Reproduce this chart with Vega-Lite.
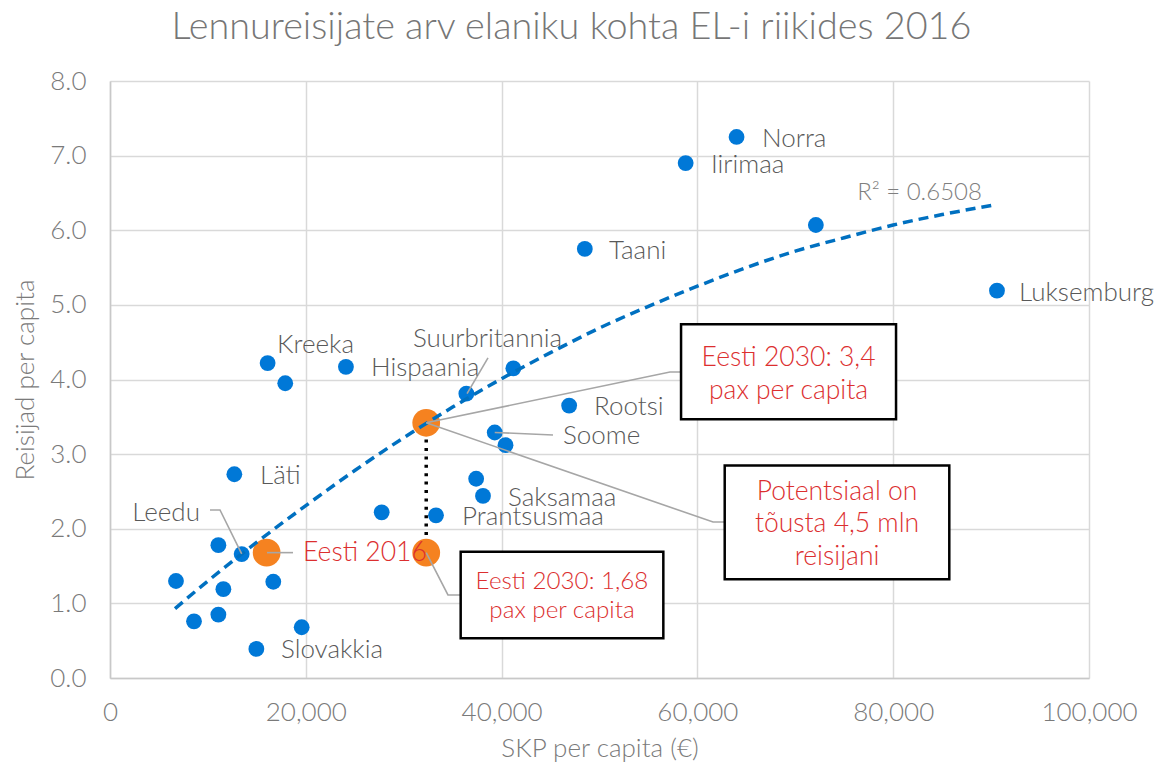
{
  "$schema": "https://vega.github.io/schema/vega-lite/v6.json",
  "width": 979,
  "height": 597,
  "autosize": "none",
  "padding": {"left": 110, "top": 81, "right": 71, "bottom": 86},
  "background": "white",
  "config": {
    "view": {"stroke": null},
    "font": "Lato",
    "text": {"font": "Lato"}
  },
  "title": {
    "text": "Lennureisijate arv elaniku kohta EL-i riikides 2016",
    "font": "Lato",
    "fontSize": 37.8,
    "fontWeight": 300,
    "color": "#767676",
    "anchor": "middle",
    "dx": -28,
    "offset": 21
  },
  "datasets": {
    "pts": [
      {"country": "Norra", "x": 64000, "y": 7.25, "kind": "EU"},
      {"country": "Iirimaa", "x": 58800, "y": 6.90, "kind": "EU"},
      {"country": "", "x": 72100, "y": 6.07, "kind": "EU"},
      {"country": "Taani", "x": 48500, "y": 5.75, "kind": "EU"},
      {"country": "Luksemburg", "x": 90600, "y": 5.19, "kind": "EU"},
      {"country": "Kreeka", "x": 16100, "y": 4.22, "kind": "EU"},
      {"country": "", "x": 17900, "y": 3.95, "kind": "EU"},
      {"country": "Hispaania", "x": 24100, "y": 4.17, "kind": "EU"},
      {"country": "Suurbritannia", "x": 36400, "y": 3.81, "kind": "EU"},
      {"country": "", "x": 41200, "y": 4.15, "kind": "EU"},
      {"country": "Rootsi", "x": 46900, "y": 3.65, "kind": "EU"},
      {"country": "Soome", "x": 39300, "y": 3.29, "kind": "EU"},
      {"country": "", "x": 40400, "y": 3.12, "kind": "EU"},
      {"country": "", "x": 37400, "y": 2.67, "kind": "EU"},
      {"country": "Saksamaa", "x": 38100, "y": 2.44, "kind": "EU"},
      {"country": "Prantsusmaa", "x": 33300, "y": 2.18, "kind": "EU"},
      {"country": "", "x": 27750, "y": 2.22, "kind": "EU"},
      {"country": "Läti", "x": 12700, "y": 2.73, "kind": "EU"},
      {"country": "Leedu", "x": 13450, "y": 1.66, "kind": "EU"},
      {"country": "", "x": 11070, "y": 1.78, "kind": "EU"},
      {"country": "", "x": 6740, "y": 1.30, "kind": "EU"},
      {"country": "", "x": 11580, "y": 1.19, "kind": "EU"},
      {"country": "", "x": 16680, "y": 1.29, "kind": "EU"},
      {"country": "", "x": 8580, "y": 0.76, "kind": "EU"},
      {"country": "", "x": 11070, "y": 0.85, "kind": "EU"},
      {"country": "", "x": 19580, "y": 0.68, "kind": "EU"},
      {"country": "Slovakkia", "x": 14950, "y": 0.39, "kind": "EU"},
      {"country": "Eesti 2016", "x": 16000, "y": 1.68, "kind": "Eesti"},
      {"country": "Eesti 2030 (trend)", "x": 32300, "y": 3.42, "kind": "Eesti"},
      {"country": "Eesti 2030", "x": 32300, "y": 1.68, "kind": "Eesti"}
    ],
    "trend": [
      {"x": 6640, "y": 0.93},
      {"x": 10000, "y": 1.30},
      {"x": 15000, "y": 1.82},
      {"x": 20000, "y": 2.31},
      {"x": 25000, "y": 2.78},
      {"x": 30000, "y": 3.22},
      {"x": 35000, "y": 3.63},
      {"x": 40000, "y": 4.01},
      {"x": 45000, "y": 4.36},
      {"x": 50000, "y": 4.69},
      {"x": 55000, "y": 4.98},
      {"x": 60000, "y": 5.25},
      {"x": 65000, "y": 5.50},
      {"x": 70000, "y": 5.72},
      {"x": 75000, "y": 5.90},
      {"x": 80000, "y": 6.07},
      {"x": 85000, "y": 6.21},
      {"x": 90330, "y": 6.34}
    ],
    "leaders": [
      {"id": "Leedu", "o": 1, "x": 10215, "y": 2.252},
      {"id": "Leedu", "o": 2, "x": 11236, "y": 2.252},
      {"id": "Leedu", "o": 3, "x": 13450, "y": 1.662},
      {"id": "E2016", "o": 1, "x": 16040, "y": 1.68},
      {"id": "E2016", "o": 2, "x": 18690, "y": 1.68},
      {"id": "UK", "o": 1, "x": 38610, "y": 4.29},
      {"id": "UK", "o": 2, "x": 36470, "y": 3.81},
      {"id": "Box1", "o": 1, "x": 32300, "y": 3.42},
      {"id": "Box1", "o": 2, "x": 57200, "y": 4.10},
      {"id": "Box1", "o": 3, "x": 58330, "y": 4.10},
      {"id": "Box2", "o": 1, "x": 32300, "y": 3.42},
      {"id": "Box2", "o": 2, "x": 61600, "y": 2.09},
      {"id": "Box2", "o": 3, "x": 62790, "y": 2.09},
      {"id": "Soome", "o": 1, "x": 39300, "y": 3.29},
      {"id": "Soome", "o": 2, "x": 45250, "y": 3.257},
      {"id": "Box3", "o": 1, "x": 32300, "y": 1.68},
      {"id": "Box3", "o": 2, "x": 34520, "y": 1.113},
      {"id": "Box3", "o": 3, "x": 35820, "y": 1.113}
    ],
    "gap": [
      {"x": 32300, "y": 3.42, "y2": 1.68}
    ],
    "boxes": [
      {"x": 58330, "x2": 80290, "y": 4.741, "y2": 3.468},
      {"x": 62790, "x2": 85730, "y": 2.846, "y2": 1.323},
      {"x": 35820, "x2": 56520, "y": 1.693, "y2": 0.532}
    ],
    "boxtext": [
      {"x": 69310, "y": 4.29, "text": "Eesti 2030: 3,4"},
      {"x": 69310, "y": 3.85, "text": "pax per capita"},
      {"x": 74260, "y": 2.497, "text": "Potentsiaal on"},
      {"x": 74260, "y": 2.064, "text": "tõusta 4,5 mln"},
      {"x": 74260, "y": 1.626, "text": "reisijani"}
    ],
    "boxtextSmall": [
      {"x": 46170, "y": 1.291, "text": "Eesti 2030: 1,68"},
      {"x": 46170, "y": 0.898, "text": "pax per capita"}
    ],
    "labels": [
      {"x": 66600, "y": 7.22, "text": "Norra"},
      {"x": 61390, "y": 6.88, "text": "Iirimaa"},
      {"x": 50970, "y": 5.72, "text": "Taani"},
      {"x": 92850, "y": 5.16, "text": "Luksemburg"},
      {"x": 17060, "y": 4.46, "text": "Kreeka"},
      {"x": 26660, "y": 4.16, "text": "Hispaania"},
      {"x": 30950, "y": 4.54, "text": "Suurbritannia"},
      {"x": 49440, "y": 3.63, "text": "Rootsi"},
      {"x": 46270, "y": 3.24, "text": "Soome"},
      {"x": 40650, "y": 2.41, "text": "Saksamaa"},
      {"x": 35960, "y": 2.16, "text": "Prantsusmaa"},
      {"x": 15320, "y": 2.71, "text": "Läti"},
      {"x": 17470, "y": 0.375, "text": "Slovakkia"}
    ],
    "labelsRight": [
      {"x": 9190, "y": 2.21, "text": "Leedu"}
    ],
    "redLabels": [
      {"x": 19710, "y": 1.68, "text": "Eesti 2016"}
    ],
    "r2": [
      {"x": 82690, "y": 6.50, "text": "R² = 0.6508"}
    ]
  },
  "encoding": {
    "x": {
      "field": "x",
      "type": "quantitative",
      "scale": {"domain": [0, 100000], "nice": false, "zero": true},
      "axis": {
        "title": "SKP per capita (€)",
        "values": [0, 20000, 40000, 60000, 80000, 100000],
        "format": ",.0f",
        "grid": true,
        "gridColor": "#d9d9d9",
        "gridWidth": 1.5,
        "domainColor": "#c8c8c8",
        "domainWidth": 1.5,
        "ticks": false,
        "labelFont": "Lato",
        "labelFontWeight": 300,
        "labelFontSize": 26,
        "labelColor": "#7a7a7a",
        "labelPadding": 21,
        "labelFlush": false,
        "titleFont": "Lato",
        "titleFontWeight": 300,
        "titleFontSize": 26,
        "titleColor": "#7a7a7a",
        "titlePadding": 10
      }
    },
    "y": {
      "field": "y",
      "type": "quantitative",
      "scale": {"domain": [0, 8], "nice": false, "zero": true},
      "axis": {
        "title": "Reisijad per capita",
        "values": [0, 1, 2, 3, 4, 5, 6, 7, 8],
        "format": ".1f",
        "grid": true,
        "gridColor": "#d9d9d9",
        "gridWidth": 1.5,
        "domainColor": "#c8c8c8",
        "domainWidth": 1.5,
        "ticks": false,
        "labelFont": "Lato",
        "labelFontWeight": 300,
        "labelFontSize": 26,
        "labelColor": "#7a7a7a",
        "labelPadding": 24,
        "labelFlush": false,
        "titleFont": "Lato",
        "titleFontWeight": 300,
        "titleFontSize": 26,
        "titleColor": "#7a7a7a",
        "titlePadding": 11
      }
    }
  },
  "layer": [
    {
      "data": {"name": "gap"},
      "mark": {"type": "rule", "color": "#000000", "strokeWidth": 3.5, "strokeDash": [3, 5.4]},
      "encoding": {"y2": {"field": "y2"}}
    },
    {
      "data": {"name": "pts"},
      "transform": [{"filter": "datum.kind === 'EU'"}],
      "mark": {"type": "circle", "size": 250, "opacity": 1, "color": "#0078d7"}
    },
    {
      "data": {"name": "pts"},
      "transform": [{"filter": "datum.kind === 'Eesti'"}],
      "mark": {"type": "circle", "size": 770, "opacity": 1, "color": "#f58220"}
    },
    {
      "data": {"name": "trend"},
      "mark": {"type": "line", "color": "#0070c0", "strokeWidth": 3.5, "strokeDash": [10, 6], "interpolate": "monotone"}
    },
    {
      "data": {"name": "leaders"},
      "mark": {"type": "line", "color": "#a6a6a6", "strokeWidth": 1.6},
      "encoding": {
        "detail": {"field": "id"},
        "order": {"field": "o", "type": "quantitative"}
      }
    },
    {
      "data": {"name": "boxes"},
      "mark": {"type": "rect", "fill": "white", "stroke": "#000000", "strokeWidth": 2.5},
      "encoding": {"x2": {"field": "x2"}, "y2": {"field": "y2"}}
    },
    {
      "data": {"name": "boxtext"},
      "mark": {"type": "text", "font": "Lato", "fontWeight": 300, "fontSize": 26.5, "color": "#dc2f2f", "align": "center", "baseline": "middle"},
      "encoding": {"text": {"field": "text"}}
    },
    {
      "data": {"name": "boxtextSmall"},
      "mark": {"type": "text", "font": "Lato", "fontWeight": 300, "fontSize": 24.2, "color": "#dc2f2f", "align": "center", "baseline": "middle"},
      "encoding": {"text": {"field": "text"}}
    },
    {
      "data": {"name": "labels"},
      "mark": {"type": "text", "font": "Lato", "fontWeight": 300, "fontSize": 26, "color": "#595959", "align": "left", "baseline": "middle"},
      "encoding": {"text": {"field": "text"}}
    },
    {
      "data": {"name": "labelsRight"},
      "mark": {"type": "text", "font": "Lato", "fontWeight": 300, "fontSize": 26, "color": "#595959", "align": "right", "baseline": "middle"},
      "encoding": {"text": {"field": "text"}}
    },
    {
      "data": {"name": "redLabels"},
      "mark": {"type": "text", "font": "Lato", "fontWeight": 300, "fontSize": 26.5, "color": "#dc2f2f", "align": "left", "baseline": "middle"},
      "encoding": {"text": {"field": "text"}}
    },
    {
      "data": {"name": "r2"},
      "mark": {"type": "text", "font": "Lato", "fontWeight": 300, "fontSize": 24, "color": "#7f7f7f", "align": "center", "baseline": "middle"},
      "encoding": {"text": {"field": "text"}}
    }
  ]
}
